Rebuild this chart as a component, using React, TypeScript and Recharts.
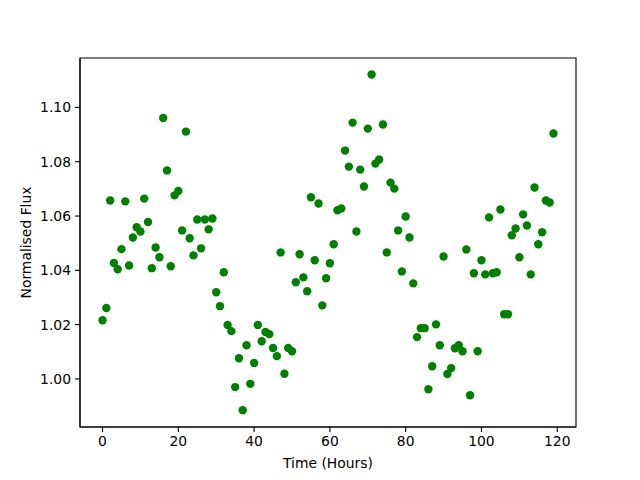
import { ScatterChart, Scatter, XAxis, YAxis, ReferenceArea, Label } from "recharts"

// time in hours of each sample
const hours = [
  0, 1, 2, 3, 4, 5, 6, 7, 8, 9, 10, 11, 12, 13, 14, 15, 16, 17, 18, 19,
  20, 21, 22, 23, 24, 25, 26, 27, 28, 29, 30, 31, 32, 33, 34, 35, 36, 37, 38, 39,
  40, 41, 42, 43, 44, 45, 46, 47, 48, 49, 50, 51, 52, 53, 54, 55, 56, 57, 58, 59,
  60, 61, 62, 63, 64, 65, 66, 67, 68, 69, 70, 71, 72, 73, 74, 75, 76, 77, 78, 79,
  80, 81, 82, 83, 84, 85, 86, 87, 88, 89, 90, 91, 92, 93, 94, 95, 96, 97, 98, 99,
  100, 101, 102, 103, 104, 105, 106, 107, 108, 109, 110, 111, 112, 113, 114, 115, 116, 117, 118, 119,
]

// normalised flux
const flux = [
  1.0216, 1.0261, 1.0657, 1.0427, 1.0404, 1.0478, 1.0654, 1.0418, 1.0521, 1.0559,
  1.0543, 1.0664, 1.0578, 1.0408, 1.0484, 1.0448, 1.0961, 1.0768, 1.0415, 1.0676,
  1.0692, 1.0547, 1.0911, 1.0518, 1.0455, 1.0587, 1.0481, 1.0587, 1.0551, 1.0591,
  1.0319, 1.0268, 1.0393, 1.0199, 1.0176, 0.997, 1.0076, 0.9885, 1.0124, 0.9982,
  1.0059, 1.0199, 1.0139, 1.0173, 1.0165, 1.0114, 1.0084, 1.0466, 1.0019, 1.0114,
  1.0102, 1.0356, 1.0459, 1.0374, 1.0323, 1.0669, 1.0437, 1.0646, 1.0271, 1.0371,
  1.0426, 1.0496, 1.0621, 1.0628, 1.0841, 1.0782, 1.0944, 1.0543, 1.0771, 1.0709,
  1.0922, 1.1121, 1.0793, 1.0808, 1.0937, 1.0466, 1.0723, 1.0701, 1.0547, 1.0396,
  1.0598, 1.0521, 1.0352, 1.0154, 1.0187, 1.0187, 0.9962, 1.0047, 1.0201, 1.0124,
  1.0451, 1.0018, 1.004, 1.0113, 1.0124, 1.0102, 1.0477, 0.994, 1.0389, 1.0102,
  1.0437, 1.0385, 1.0595, 1.0389, 1.0393, 1.0624, 1.0238, 1.0238, 1.0529, 1.0554,
  1.0448, 1.0606, 1.0565, 1.0385, 1.0705, 1.0496, 1.054, 1.0657, 1.065, 1.0904,
]

const xTicks = [0, 20, 40, 60, 80, 100, 120]
const yTicks = [1.0, 1.02, 1.04, 1.06, 1.08, 1.1]

const xDomain = [-5.95, 124.95]
const yDomain = [0.9823, 1.1182]

const data = hours.map((t, i) => ({ t, flux: flux[i] }))

const font = { fontFamily: "DejaVu Sans", fontSize: 13.9, fill: "#000" }

function Dot(props: any) {
  return <circle cx={props.cx} cy={props.cy} r={4.2} fill="#008000" />
}

export default function App() {
  return (
    <div style={{ position: "absolute", left: 0, top: 0, width: 640, height: 480, background: "#fff" }}>
      <ScatterChart width={640} height={480} margin={{ top: 58, right: 64, left: 20, bottom: 23 }}>
        <XAxis
          type="number"
          dataKey="t"
          domain={xDomain}
          allowDataOverflow
          ticks={xTicks}
          height={30}
          tickSize={5}
          tickMargin={4}
          stroke="#000"
          strokeWidth={1.1}
          tick={font}
        >
          <Label value="Time (Hours)" position="bottom" offset={1} style={font} />
        </XAxis>
        <YAxis
          type="number"
          dataKey="flux"
          domain={yDomain}
          allowDataOverflow
          ticks={yTicks}
          width={60}
          tickSize={5}
          tickMargin={4}
          stroke="#000"
          strokeWidth={1.1}
          tick={font}
          tickFormatter={(v) => Number(v).toFixed(2)}
        >
          <Label value="Normalised Flux" angle={-90} position="insideLeft" offset={6} style={{ ...font, textAnchor: "middle" }} />
        </YAxis>
        <ReferenceArea
          x1={xDomain[0]}
          x2={xDomain[1]}
          y1={yDomain[0]}
          y2={yDomain[1]}
          fill="none"
          fillOpacity={0}
          stroke="#000"
          strokeWidth={1.1}
        />
        <Scatter data={data} shape={<Dot />} isAnimationActive={false} />
      </ScatterChart>
    </div>
  )
}
